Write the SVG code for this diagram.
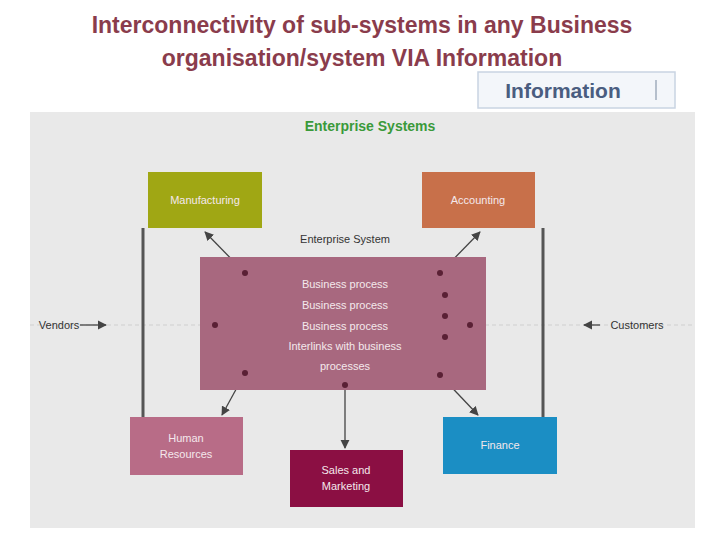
<svg xmlns="http://www.w3.org/2000/svg" width="720" height="540" viewBox="0 0 720 540">
<defs>
<style>
.title{font-family:"Liberation Sans",Arial,sans-serif;font-weight:bold;font-size:23px;fill:#8a3c4c;text-anchor:middle}
.box text{font-family:"Liberation Sans",Arial,sans-serif;font-size:11px;fill:#f4e8ec;text-anchor:middle}
.lbl{font-family:"Liberation Sans",Arial,sans-serif;font-size:11px;fill:#333;text-anchor:middle}
.conn{stroke:#444;stroke-width:1.3;fill:none}
.vline{stroke:#555;stroke-width:3;fill:none}
.dot{fill:#5a2035}
</style>
<marker id="ah" viewBox="0 0 10 10" refX="9" refY="5" markerWidth="7" markerHeight="7" orient="auto-start-reverse">
<path d="M0,0 L10,5 L0,10 z" fill="#444"/>
</marker>
</defs>
<rect x="0" y="0" width="720" height="540" fill="#ffffff"/>
<text class="title" x="362" y="33">Interconnectivity of sub-systems in any Business</text>
<text class="title" x="362" y="66">organisation/system VIA Information</text>
<g id="info">
<rect x="478" y="72" width="197" height="36" fill="#f3f6fa" stroke="#c9d4e2" stroke-width="1.5"/>
<text x="563" y="98" style="font-family:'Liberation Sans',Arial,sans-serif;font-weight:bold;font-size:21px;fill:#4a5d80" text-anchor="middle">Information</text>
<line x1="656" y1="80" x2="656" y2="100" stroke="#b5bfcc" stroke-width="2"/>
</g>
<rect x="30" y="112" width="665" height="416" fill="#e9e9e9"/>
<text x="370" y="131" style="font-family:'Liberation Sans',Arial,sans-serif;font-weight:bold;font-size:14px;fill:#3a9a3a" text-anchor="middle">Enterprise Systems</text>
<line x1="30" y1="325" x2="695" y2="325" stroke="#cfcfcf" stroke-width="1" stroke-dasharray="4,3"/>
<g id="connectors">
<path class="vline" d="M143,228 V417"/>
<path class="vline" d="M543,228 V417"/>
<line class="conn" x1="245" y1="273" x2="205" y2="232" marker-end="url(#ah)"/>
<line class="conn" x1="440" y1="273" x2="480" y2="232" marker-end="url(#ah)"/>
<line class="conn" x1="245" y1="373" x2="222" y2="415" marker-end="url(#ah)"/>
<line class="conn" x1="440" y1="375" x2="478" y2="415" marker-end="url(#ah)"/>
<line class="conn" x1="345" y1="390" x2="345" y2="448" marker-end="url(#ah)"/>
<line class="conn" x1="80" y1="325" x2="106" y2="325" marker-end="url(#ah)"/>
<line class="conn" x1="600" y1="325" x2="584" y2="325" marker-end="url(#ah)"/>
</g>
<g id="manufacturing" class="box">
<rect x="148" y="172" width="114" height="56" fill="#a0a714"/>
<text x="205" y="204">Manufacturing</text>
</g>
<g id="accounting" class="box">
<rect x="422" y="172" width="113" height="56" fill="#c8704a"/>
<text x="478" y="204">Accounting</text>
</g>
<text class="lbl" x="345" y="243">Enterprise System</text>
<g id="enterprise" class="box">
<rect x="200" y="257" width="286" height="133" fill="#a8687f"/>
<text x="345" y="288">Business process</text>
<text x="345" y="309">Business process</text>
<text x="345" y="330">Business process</text>
<text x="345" y="350">Interlinks with business</text>
<text x="345" y="370">processes</text>
<circle class="dot" cx="245" cy="273" r="3"/>
<circle class="dot" cx="440" cy="273" r="3"/>
<circle class="dot" cx="445" cy="295" r="3"/>
<circle class="dot" cx="445" cy="316" r="3"/>
<circle class="dot" cx="445" cy="337" r="3"/>
<circle class="dot" cx="215" cy="325" r="3"/>
<circle class="dot" cx="470" cy="325" r="3"/>
<circle class="dot" cx="245" cy="373" r="3"/>
<circle class="dot" cx="440" cy="375" r="3"/>
<circle class="dot" cx="345" cy="385" r="3"/>
</g>
<g id="hr" class="box">
<rect x="130" y="417" width="113" height="58" fill="#b86c87"/>
<text x="186" y="442">Human</text>
<text x="186" y="458">Resources</text>
</g>
<g id="sales" class="box">
<rect x="290" y="450" width="113" height="57" fill="#8b0f43"/>
<text x="346" y="474">Sales and</text>
<text x="346" y="490">Marketing</text>
</g>
<g id="finance" class="box">
<rect x="443" y="417" width="114" height="57" fill="#1b8ec4"/>
<text x="500" y="449">Finance</text>
</g>
<g id="vendors"><text class="lbl" x="59" y="329">Vendors</text></g>
<g id="customers"><text class="lbl" x="637" y="329">Customers</text></g>
</svg>
